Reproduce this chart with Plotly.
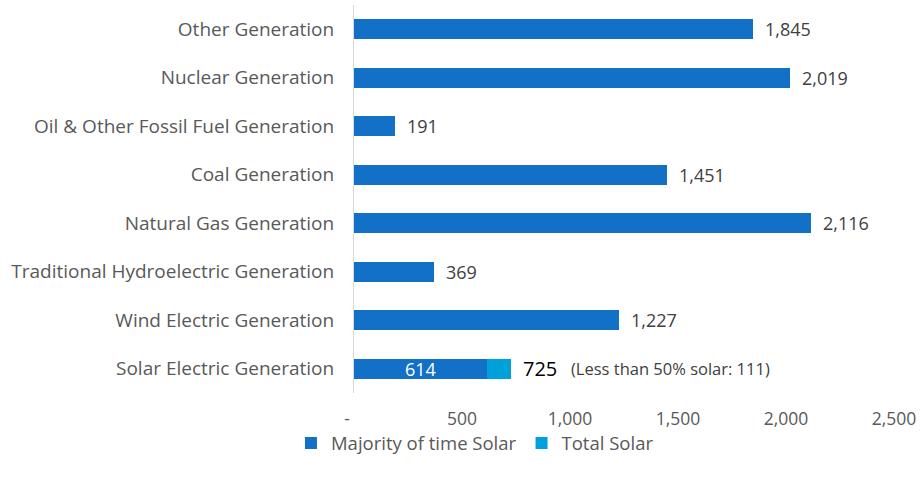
import plotly.graph_objects as go

# categories listed bottom -> top as they appear on the chart
categories = [
    "Solar Electric Generation",
    "Wind Electric Generation",
    "Traditional Hydroelectric Generation",
    "Natural Gas Generation",
    "Coal Generation",
    "Oil & Other Fossil Fuel Generation",
    "Nuclear Generation",
    "Other Generation",
]
majority_values = [614, 1227, 369, 2116, 1451, 191, 2019, 1845]
total_solar = 725
less_than_half_solar = total_solar - majority_values[0]  # 111

tick_vals = [0, 500, 1000, 1500, 2000, 2500]
tick_text = ["-\u00a0\u00a0\u00a0", "500", "1,000", "1,500", "2,000", "2,500"]

DARK = "#1270C6"
LIGHT = "#00A1DA"
GREY = "#595959"
FONT = "Open Sans, sans-serif"

fig = go.Figure()
fig.add_trace(go.Bar(
    y=categories, x=majority_values, orientation="h",
    name="Majority of time Solar", marker=dict(color=DARK, line_width=0),
))
fig.add_trace(go.Bar(
    y=[categories[0]], x=[less_than_half_solar], orientation="h",
    name="Total Solar", marker=dict(color=LIGHT, line_width=0),
))

# value labels outside the bars
for cat, val in zip(categories[1:], majority_values[1:]):
    fig.add_annotation(x=val, y=cat, text=f"{val:,}", showarrow=False,
                       xanchor="left", xshift=10,
                       font=dict(size=18, color="#404040", family=FONT))
# solar: inner label, total and note
fig.add_annotation(x=majority_values[0] / 2, y=categories[0],
                   text=f"{majority_values[0]:,}", showarrow=False,
                   font=dict(size=18, color="white", family=FONT))
fig.add_annotation(x=total_solar, y=categories[0], text=f"{total_solar:,}",
                   showarrow=False, xanchor="left", xshift=10,
                   font=dict(size=20, color="#000000", family=FONT))
fig.add_annotation(x=total_solar, y=categories[0],
                   text=f"(Less than 50% solar: {less_than_half_solar})",
                   showarrow=False, xanchor="left", xshift=58,
                   font=dict(size=16.5, color="#404040", family=FONT))

fig.update_layout(
    width=922, height=482,
    barmode="stack", bargap=0.58,
    plot_bgcolor="white", paper_bgcolor="white",
    margin=dict(l=354, r=28, t=5, b=89, autoexpand=False),
    font=dict(family=FONT, color=GREY, size=18),
    showlegend=True,
    legend=dict(orientation="h", x=0.224, xanchor="center", y=-0.13, yanchor="middle",
                font=dict(size=18.5, color=GREY), traceorder="normal",
                itemwidth=30, bgcolor="rgba(0,0,0,0)"),
    xaxis=dict(range=[0, 2500], tickvals=tick_vals, ticktext=tick_text,
               showgrid=False, zeroline=False, showline=False, automargin=False,
               ticklabelstandoff=13, tickfont=dict(size=17.5, color=GREY)),
    yaxis=dict(showgrid=False, showline=True, linecolor="#D9D9D9", linewidth=1,
               automargin=False, ticklabelstandoff=15,
               tickfont=dict(size=19, color=GREY)),
)

# drop the default 8px body margin so the figure fills the window exactly
fig.write_html("out.html", config={"displayModeBar": False},
               post_script="document.body.style.margin='0';")
